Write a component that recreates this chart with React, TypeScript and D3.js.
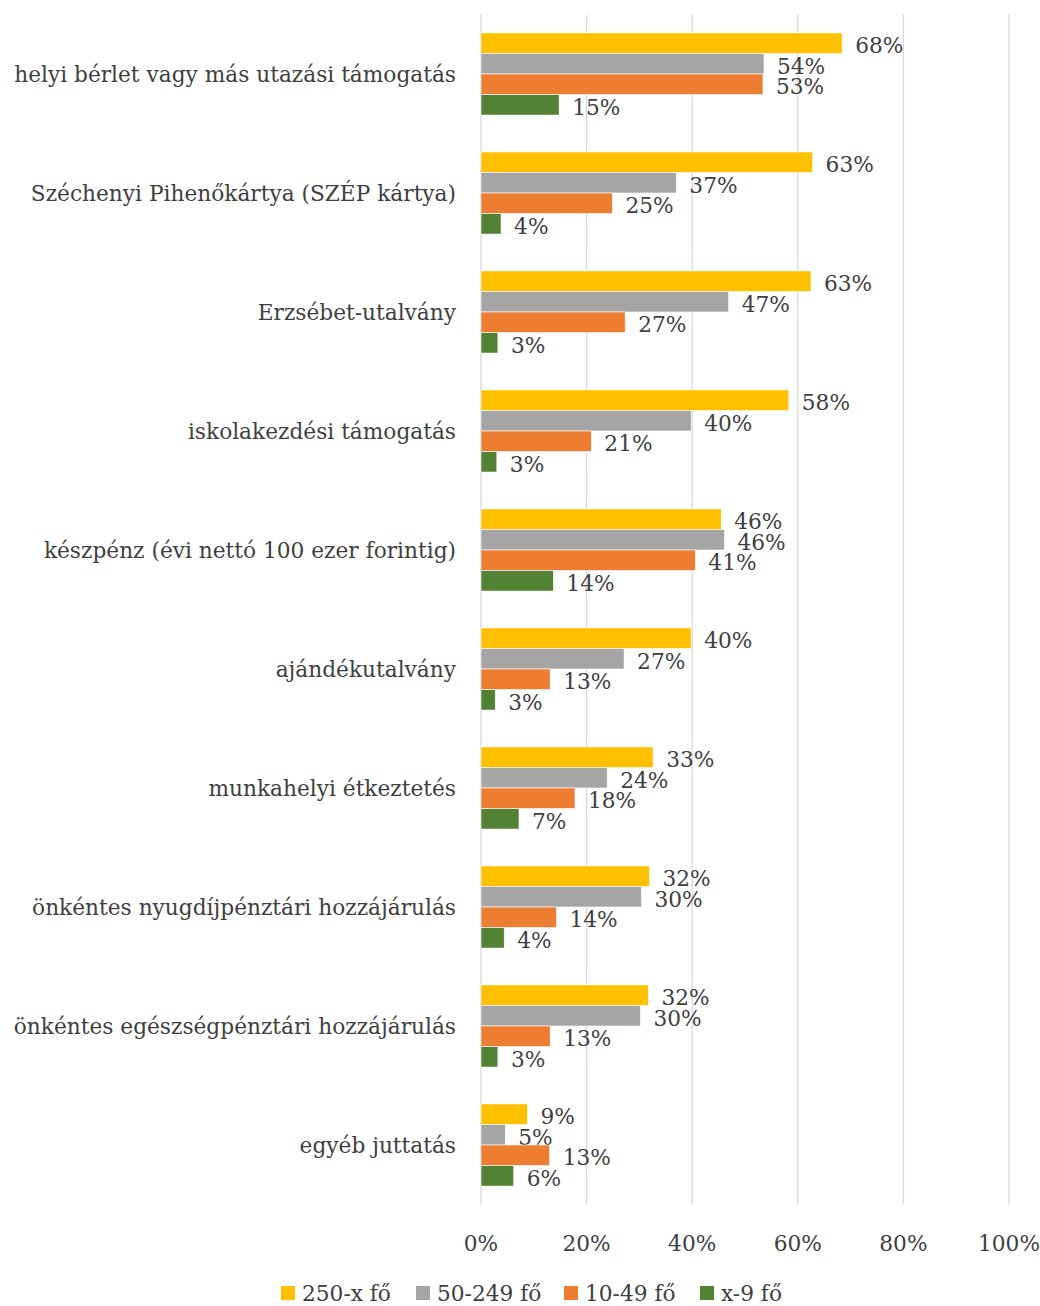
import React from "react";
import * as d3 from "d3";

const categories = [
  "helyi bérlet vagy más utazási támogatás",
  "Széchenyi Pihenőkártya (SZÉP kártya)",
  "Erzsébet-utalvány",
  "iskolakezdési támogatás",
  "készpénz (évi nettó 100 ezer forintig)",
  "ajándékutalvány",
  "munkahelyi étkeztetés",
  "önkéntes nyugdíjpénztári hozzájárulás",
  "önkéntes egészségpénztári hozzájárulás",
  "egyéb juttatás",
];

const seriesNames = ["250-x fő", "50-249 fő", "10-49 fő", "x-9 fő"];
const seriesColors = ["#FFC000", "#A5A5A5", "#ED7D31", "#548235"];

const large = [68.4, 62.8, 62.5, 58.3, 45.5, 39.8, 32.6, 31.9, 31.7, 8.8];
const medium = [53.6, 37.0, 46.9, 39.8, 46.1, 27.1, 23.9, 30.4, 30.2, 4.6];
const small = [53.4, 24.9, 27.3, 20.9, 40.6, 13.1, 17.8, 14.3, 13.1, 13.0];
const micro = [14.8, 3.8, 3.2, 3.0, 13.7, 2.7, 7.2, 4.4, 3.2, 6.2];

const seriesValues = [large, medium, small, micro];
const xTicks = [0, 20, 40, 60, 80, 100];

const W = 1040;
const H = 1306;
const FONT = "'DejaVu Serif', serif";
const TEXT = "#404040";
const FS = 21.7;

export default function App() {
  const x = d3.scaleLinear().domain([0, 100]).range([481, 1009]);
  const y = d3.scaleBand<string>().domain(categories).range([14.5, 1204.5]).paddingInner(0.31).paddingOuter(0.155);
  const sub = d3.scaleBand<string>().domain(seriesNames).range([0, y.bandwidth()]);
  const legendX = [281, 416, 564, 700];

  return (
    <svg width={W} height={H} style={{ position: "absolute", left: 0, top: 0, background: "#fff" }}>
      <rect x={0} y={0} width={W} height={H} fill="#fff" />
      {xTicks.map((t) => (
        <line key={t} x1={x(t)} x2={x(t)} y1={14.5} y2={1204.5} stroke="#D9D9D9" strokeWidth={1.3} />
      ))}
      {categories.map((c, i) => (
        <g key={c}>
          {seriesNames.map((s, j) => {
            const v = seriesValues[j][i];
            const by = (y(c) as number) + (sub(s) as number);
            const bh = sub.bandwidth();
            return (
              <g key={s}>
                <rect x={x(0)} y={by} width={x(v) - x(0)} height={bh} fill={seriesColors[j]} stroke="#fff" strokeWidth={0.6} />
                <text x={x(v) + 13} y={by + bh / 2 + 10} fontFamily={FONT} fontSize={FS} fill={TEXT}>
                  {Math.round(v)}%
                </text>
              </g>
            );
          })}
          <text
            x={456}
            y={(y(c) as number) + y.bandwidth() / 2 + 8}
            textAnchor="end"
            fontFamily={FONT}
            fontSize={FS}
            fill={TEXT}
          >
            {c}
          </text>
        </g>
      ))}
      {xTicks.map((t) => (
        <text key={t} x={x(t)} y={1251} textAnchor="middle" fontFamily={FONT} fontSize={FS} fill={TEXT}>
          {t}%
        </text>
      ))}
      {seriesNames.map((s, j) => (
        <g key={s} transform={`translate(${legendX[j]},1286)`}>
          <rect x={0} y={0} width={14} height={14} fill={seriesColors[j]} />
          <text x={21} y={15} fontFamily={FONT} fontSize={FS} fill={TEXT}>
            {s}
          </text>
        </g>
      ))}
    </svg>
  );
}
